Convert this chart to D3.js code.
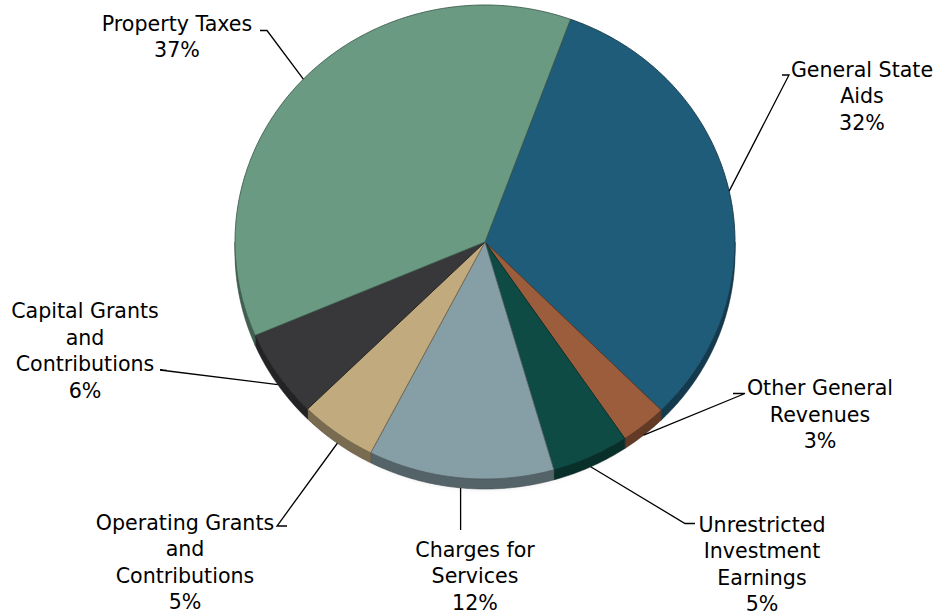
<!DOCTYPE html>
<html>
<head>
<meta charset="utf-8">
<script src="https://cdn.jsdelivr.net/npm/d3@7"></script>
<style>
  html, body { margin: 0; padding: 0; background: #ffffff; }
  svg { display: block; }
  text { font-family: "DejaVu Sans", Verdana, sans-serif; font-size: 20.6px; fill: #000; }
</style>
</head>
<body>
<svg id="chart" width="935" height="616"></svg>
<script>
// Revenue sources, share of total revenue (percent), clockwise from the first slice
const categories = [
  "General State Aids",
  "Other General Revenues",
  "Unrestricted Investment Earnings",
  "Charges for Services",
  "Operating Grants and Contributions",
  "Capital Grants and Contributions",
  "Property Taxes"
];
const shares = [32, 3, 5, 12, 5, 6, 37];
const labelLines = [
  ["General State", "Aids"],
  ["Other General", "Revenues"],
  ["Unrestricted", "Investment", "Earnings"],
  ["Charges for", "Services"],
  ["Operating Grants", "and", "Contributions"],
  ["Capital Grants", "and", "Contributions"],
  ["Property Taxes"]
];

// Slice colours
const sliceColors = ["#1f5c7a", "#9c5d3c", "#0e4b45", "#869ea6", "#c1aa7e", "#38383b", "#6a9a82"];

// Label placement: centre x and first baseline, plus the short elbow of each leader line
const labelLayout = [
  { x: 862, y: 76.5,  elbow: [[782, 75], [789, 75]] },
  { x: 820, y: 395,   elbow: [[733, 393.5], [745, 393.5]] },
  { x: 762, y: 531.5, elbow: [[695, 523.5], [685, 523.5]] },
  { x: 475, y: 556.5, elbow: [[460.6, 530]] },
  { x: 185, y: 529.5, elbow: [[287, 526], [277, 526]] },
  { x: 85,  y: 318,   elbow: [[167, 370.5], [160, 370]] },
  { x: 177, y: 30.5,  elbow: [[260, 30.5], [267, 30.5]] }
];
const lineGap = 26.5;

// Pie geometry (tilted disc)
const cx = 485, cy = 242, rx = 250, ry = 237, depth = 10;
const startDeg = 20;

const svg = d3.select("#chart");
const defs = svg.append("defs");

const blur = defs.append("filter").attr("id", "soft").attr("x", "-10%").attr("y", "-10%")
  .attr("width", "120%").attr("height", "120%");
blur.append("feGaussianBlur").attr("stdDeviation", 3);

const pie = d3.pie().sort(null).value(d => d)
  .startAngle(startDeg * Math.PI / 180)
  .endAngle((startDeg + 360) * Math.PI / 180);
const arcs = pie(shares);

// point on the rim for an angle measured clockwise from 12 o'clock
const rim = (a, dy = 0) => [cx + rx * Math.sin(a), cy - ry * Math.cos(a) + dy];
const samples = (a0, a1) => {
  const n = Math.max(2, Math.ceil(Math.abs(a1 - a0) / 0.01));
  return d3.range(n + 1).map(i => a0 + (a1 - a0) * i / n);
};
const line = d3.line();

// soft drop shadow under the disc
svg.append("ellipse")
  .attr("cx", cx).attr("cy", cy + depth + 3)
  .attr("rx", rx - 8).attr("ry", ry - 4)
  .attr("fill", "#000").attr("opacity", 0.14)
  .attr("filter", "url(#soft)");

// side walls for the front half of the disc
const front0 = Math.PI / 2, front1 = 3 * Math.PI / 2;
const walls = svg.append("g");
arcs.forEach((d, i) => {
  [0, 2 * Math.PI].forEach(shift => {
    const b0 = Math.max(d.startAngle, front0 + shift);
    const b1 = Math.min(d.endAngle, front1 + shift);
    if (b1 <= b0) return;
    const top = samples(b0, b1).map(a => rim(a));
    const bottom = samples(b1, b0).map(a => rim(a, depth));
    const base = d3.color(sliceColors[i]);
    walls.append("path")
      .attr("d", line(top.concat(bottom)) + "Z")
      .attr("fill", base.darker(1.3))
      .attr("stroke", base.darker(2))
      .attr("stroke-width", 0.6);
  });
});

// top faces
const faces = svg.append("g");
arcs.forEach((d, i) => {
  const pts = [[cx, cy]].concat(samples(d.startAngle, d.endAngle).map(a => rim(a)));
  const base = d3.color(sliceColors[i]);
  faces.append("path")
    .attr("d", line(pts) + "Z")
    .attr("fill", base)
    .attr("stroke", base.darker(1.4))
    .attr("stroke-width", 0.9)
    .attr("stroke-linejoin", "round");
});

// leader lines and labels
const labels = svg.append("g");
arcs.forEach((d, i) => {
  const mid = (d.startAngle + d.endAngle) / 2;
  const c = Math.cos(mid);
  const anchor = rim(mid, c < 0 ? depth : 0);
  const lay = labelLayout[i];
  labels.append("path")
    .attr("d", line(lay.elbow.concat([anchor])))
    .attr("fill", "none")
    .attr("stroke", "#000")
    .attr("stroke-width", 1.3);

  const t = labels.append("text")
    .attr("text-anchor", "middle")
    .attr("x", lay.x).attr("y", lay.y);
  labelLines[i].concat([shares[i] + "%"]).forEach((s, k) => {
    t.append("tspan").attr("x", lay.x).attr("y", lay.y + k * lineGap).text(s);
  });
});
</script>
</body>
</html>
